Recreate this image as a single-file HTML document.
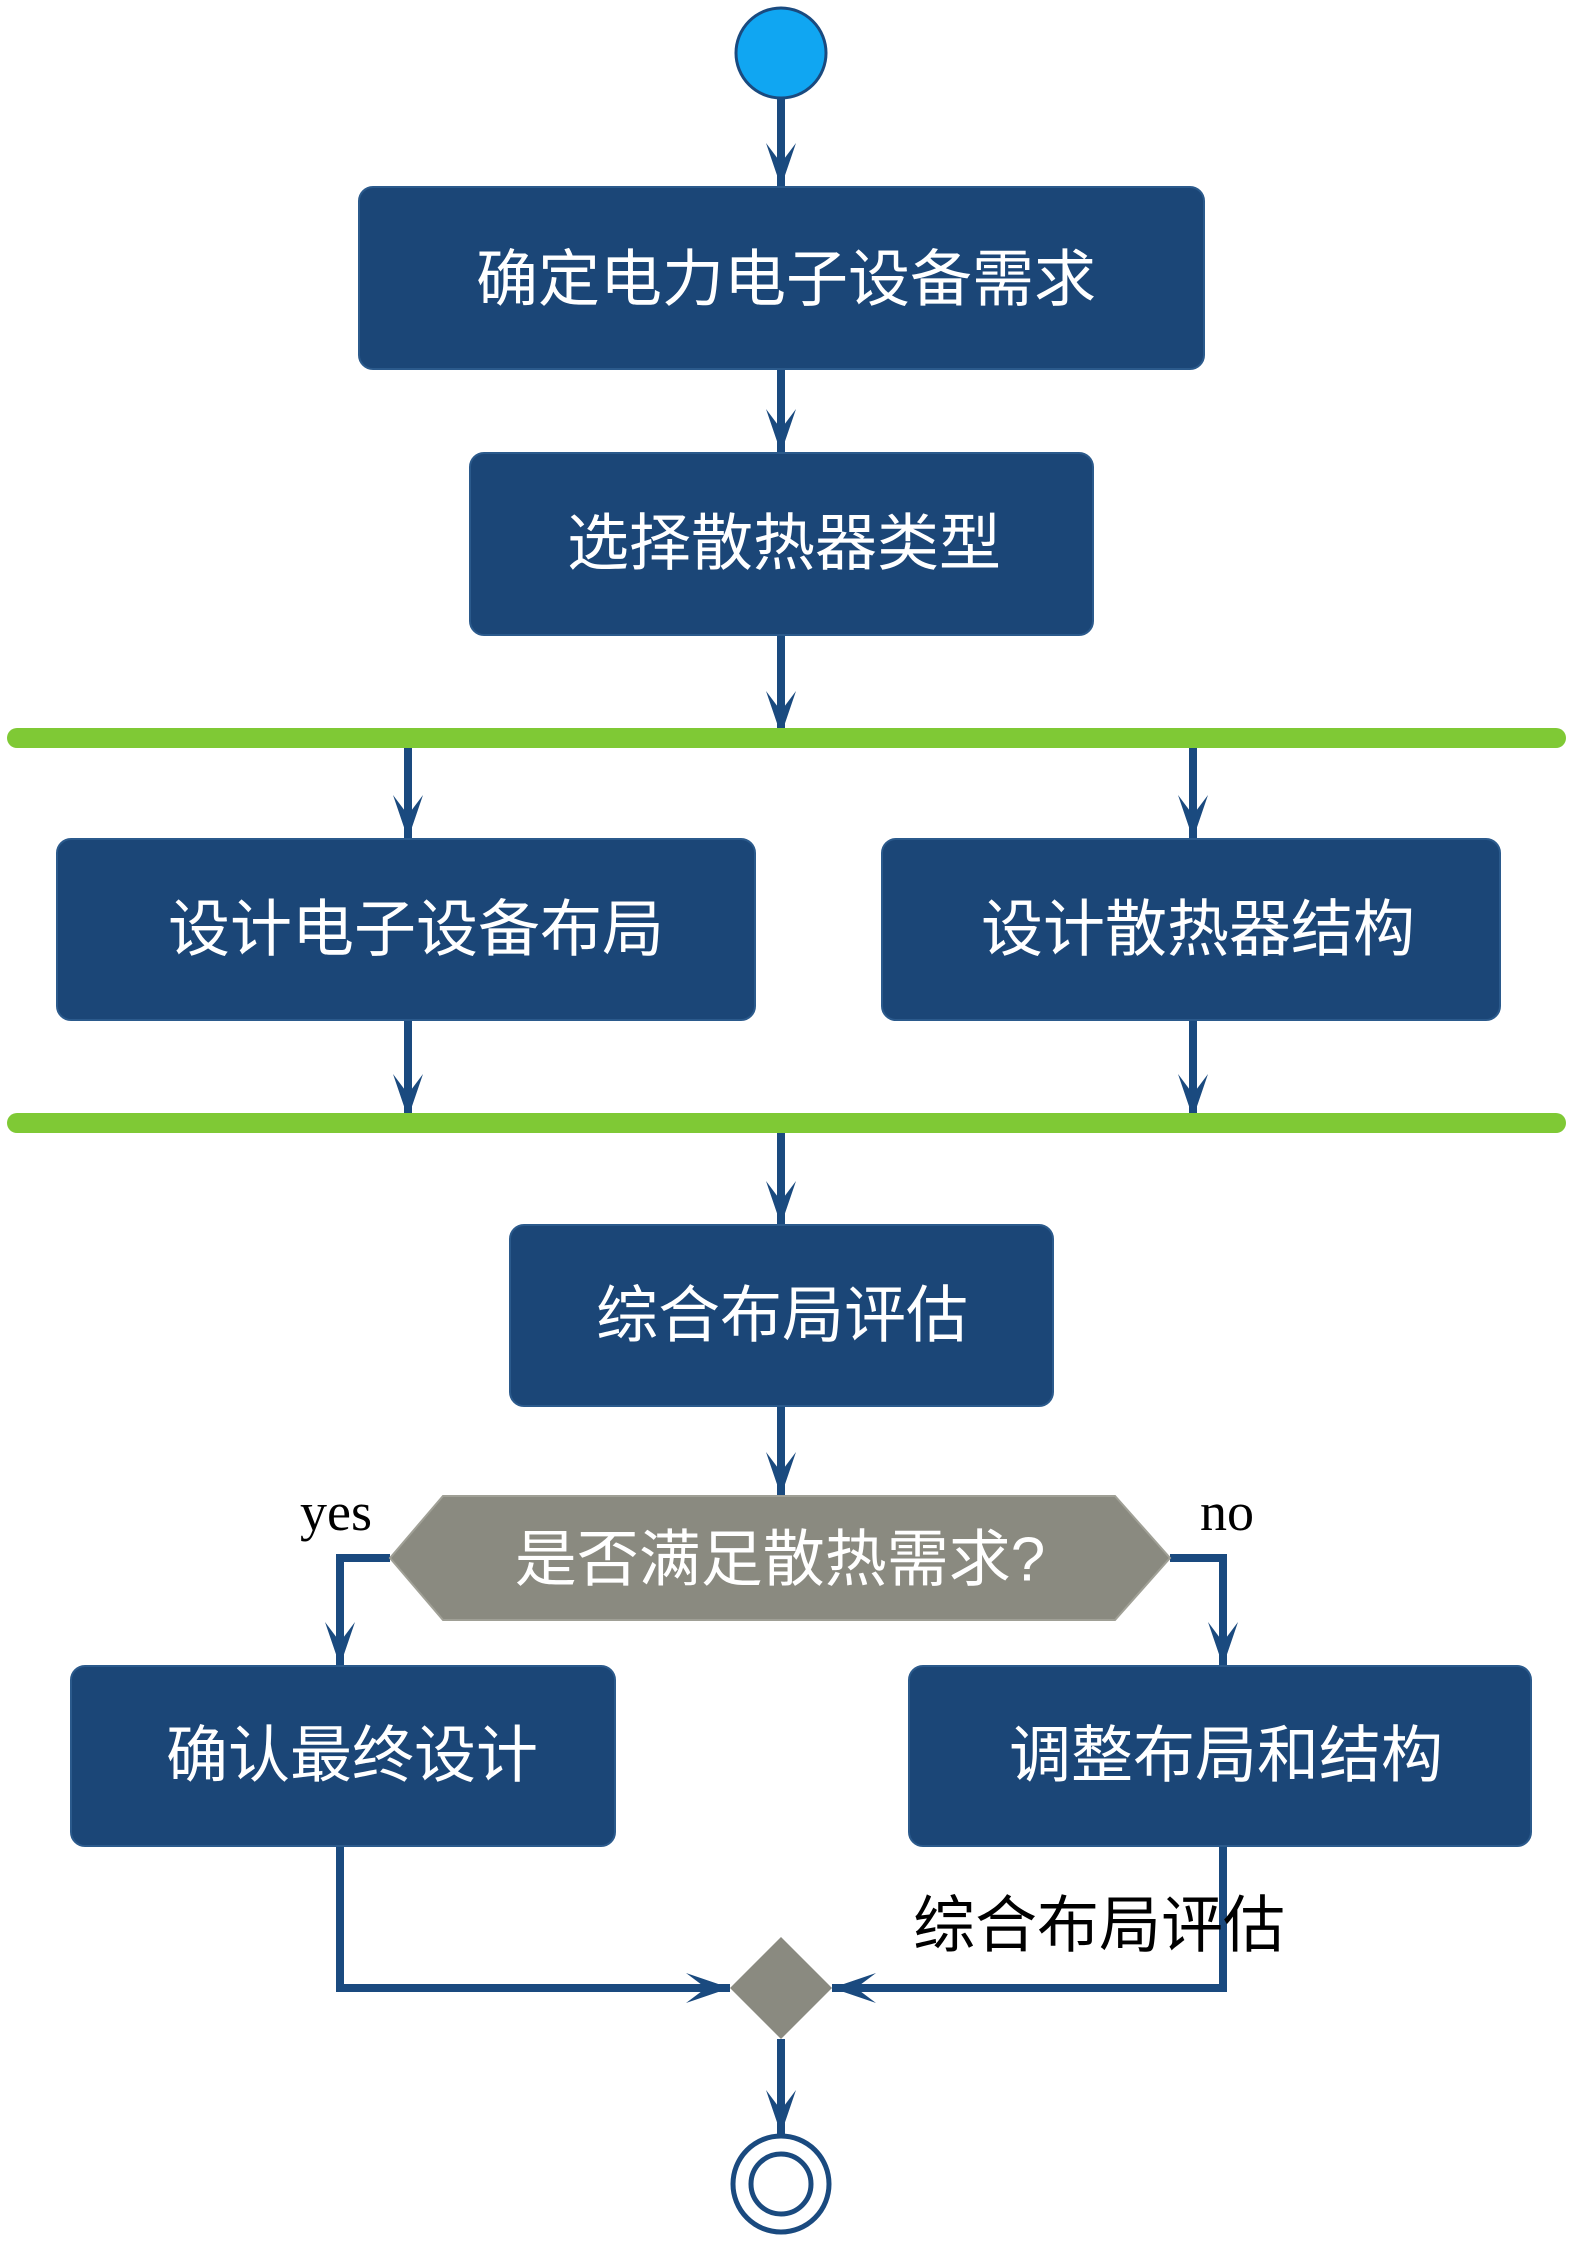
<!DOCTYPE html>
<html><head><meta charset="utf-8"><style>
html,body{margin:0;padding:0;background:#fff}
svg{display:block}
.t{font-family:"Liberation Sans","Noto Sans CJK SC",sans-serif;fill:#fff;font-size:62px}
.s{font-family:"Liberation Serif",serif;fill:#000;font-size:54px}
</style></head><body>
<svg width="1573" height="2244" viewBox="0 0 1573 2244" xmlns="http://www.w3.org/2000/svg">
<defs>
<path id="ah" d="M0,0 L-15,-44 L0,-24 L15,-44 Z" fill="#1a4a7f"/>
<path id="ahr" d="M0,0 L-44,-15 L-24,0 L-44,15 Z" fill="#1a4a7f"/>
</defs>
<g stroke="#1a4a7f" stroke-width="8" fill="none">
<line x1="781" y1="90" x2="781" y2="187"/>
<line x1="781" y1="369" x2="781" y2="453"/>
<line x1="781" y1="635" x2="781" y2="735"/>
<line x1="408" y1="740" x2="408" y2="839"/>
<line x1="1193" y1="740" x2="1193" y2="839"/>
<line x1="408" y1="1020" x2="408" y2="1120"/>
<line x1="1193" y1="1020" x2="1193" y2="1120"/>
<line x1="781" y1="1125" x2="781" y2="1225"/>
<line x1="781" y1="1406" x2="781" y2="1496"/>
<polyline points="390,1558 340,1558 340,1666"/>
<polyline points="1170,1558 1223,1558 1223,1666"/>
<polyline points="340,1846 340,1988 730,1988"/>
<polyline points="1223,1846 1223,1988 832,1988"/>
<line x1="781" y1="2039" x2="781" y2="2134"/>
</g>
<use href="#ah" x="781" y="187"/>
<use href="#ah" x="781" y="453"/>
<use href="#ah" x="781" y="735"/>
<use href="#ah" x="408" y="839"/>
<use href="#ah" x="1193" y="839"/>
<use href="#ah" x="408" y="1118"/>
<use href="#ah" x="1193" y="1118"/>
<use href="#ah" x="781" y="1225"/>
<use href="#ah" x="781" y="1496"/>
<use href="#ah" x="340" y="1666"/>
<use href="#ah" x="1223" y="1666"/>
<use href="#ah" x="781" y="2134"/>
<g transform="translate(730,1988)"><path d="M0,0 L-44,-15 L-24,0 L-44,15 Z" fill="#1a4a7f"/></g>
<g transform="translate(832,1988)"><path d="M0,0 L44,-15 L24,0 L44,15 Z" fill="#1a4a7f"/></g>
<circle cx="781" cy="53" r="45" fill="#10a6f2" stroke="#1a4a7f" stroke-width="3"/>
<g fill="#1b4677" stroke="#2b5a8c" stroke-width="2">
<rect x="359" y="187" width="845" height="182" rx="14"/>
<rect x="470" y="453" width="623" height="182" rx="14"/>
<rect x="57" y="839" width="698" height="181" rx="14"/>
<rect x="882" y="839" width="618" height="181" rx="14"/>
<rect x="510" y="1225" width="543" height="181" rx="14"/>
<rect x="71" y="1666" width="544" height="180" rx="14"/>
<rect x="909" y="1666" width="622" height="180" rx="14"/>
</g>
<rect x="7" y="728" width="1559" height="20" rx="10" fill="#7fc935"/>
<rect x="7" y="1113" width="1559" height="20" rx="10" fill="#7fc935"/>
<polygon points="390,1558 443,1496 1115,1496 1170,1558 1115,1620 443,1620" fill="#8a8a80" stroke="#a0a096" stroke-width="2"/>
<polygon points="781,1937 832,1988 781,2039 730,1988" fill="#8a8a80"/>
<circle cx="781" cy="2184" r="48" fill="#fff" stroke="#1a4a7f" stroke-width="5"/>
<circle cx="781" cy="2184" r="30" fill="#fff" stroke="#1a4a7f" stroke-width="5"/>
<g class="t" text-anchor="middle" dominant-baseline="central">
<text x="786" y="280">确定电力电子设备需求</text>
<text x="784" y="544">选择散热器类型</text>
<text x="416" y="930">设计电子设备布局</text>
<text x="1198" y="930">设计散热器结构</text>
<text x="782" y="1316">综合布局评估</text>
<text x="780" y="1560" style="fill:#fff">是否满足散热需求?</text>
<text x="352" y="1756">确认最终设计</text>
<text x="1226" y="1756">调整布局和结构</text>
<text x="1099" y="1926" style="fill:#000">综合布局评估</text>
</g>
<text class="s" x="336" y="1530" text-anchor="middle">yes</text>
<text class="s" x="1227" y="1530" text-anchor="middle">no</text>
</svg>
</body></html>
